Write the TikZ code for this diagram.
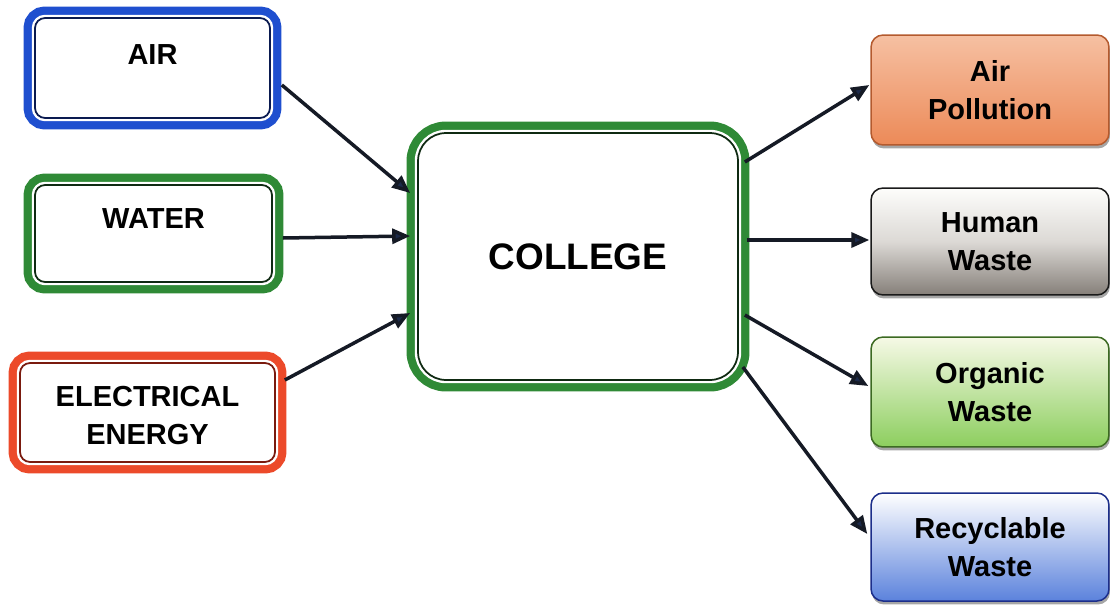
\documentclass[tikz,border=0pt]{standalone}
\usepackage{fontspec}
\setmainfont{Liberation Sans}
\usetikzlibrary{calc,arrows.meta,shadows}

\definecolor{bluerim}{HTML}{1F4FCF}
\definecolor{bluein}{HTML}{0A1A50}
\definecolor{greenrim}{HTML}{2F8A36}
\definecolor{greenin}{HTML}{0F2A12}
\definecolor{redrim}{HTML}{EC4A2A}
\definecolor{redin}{HTML}{7A1A0E}
\definecolor{arrowline}{HTML}{151A25}
\definecolor{arrowhead}{HTML}{1C2A4A}
\definecolor{aptop}{HTML}{F6C0A2}
\definecolor{apbot}{HTML}{EC8A58}
\definecolor{apedge}{HTML}{B45A2E}
\definecolor{hwtop}{HTML}{FDFDFB}
\definecolor{hwmid}{HTML}{DCD9D5}
\definecolor{hwbot}{HTML}{857F79}
\definecolor{hwedge}{HTML}{1A1A1A}
\definecolor{owtop}{HTML}{F6F9E6}
\definecolor{owbot}{HTML}{8CCE5E}
\definecolor{owedge}{HTML}{3C6A22}
\definecolor{rwtop}{HTML}{FFFFFF}
\definecolor{rwbot}{HTML}{5B82DC}
\definecolor{rwedge}{HTML}{1C2E8A}

\begin{document}
\begin{tikzpicture}[x=0.02cm,y=-0.02cm,
  % input / centre boxes: thick coloured rim, white gap, thin dark line
  framebox/.style n args={3}{draw=#2, line width=0.035cm, fill=white,
    rounded corners=#3, inner sep=0pt,
    preaction={draw=#1, line width=0.46cm},
    preaction={draw=white, line width=0.13cm}},
  % output boxes: shaded fill with a soft shadow
  wastebox/.style n args={3}{draw=#3, line width=0.03cm, rounded corners=0.24cm,
    top color=#1, bottom color=#2, inner sep=0pt,
    minimum width=4.76cm, align=center,
    font=\fontsize{16.5}{22}\selectfont\bfseries,
    drop shadow={shadow xshift=0.02cm, shadow yshift=-0.07cm, fill=black, opacity=0.35}},
  lbl/.style={font=\fontsize{16.5}{21.5}\selectfont\bfseries, align=center, inner sep=0pt},
  flow/.style={draw=arrowline, line width=0.07cm,
    -{Triangle[length=0.36cm, width=0.3cm, fill=arrowhead]}}
]
\useasboundingbox (0,0) rectangle (1111,605);

% inputs
\node[framebox={bluerim}{bluein}{0.2cm}, minimum width=4.7cm, minimum height=2cm] (air) at (152.5,68) {};
\node[lbl] (airlbl) at ($(air.center)+(0,-13)$) {AIR};

\node[framebox={greenrim}{greenin}{0.2cm}, minimum width=4.74cm, minimum height=1.94cm] (water) at (153.5,233.5) {};
\node[lbl] (waterlbl) at ($(water.center)+(0,-15)$) {WATER};

\node[framebox={redrim}{redin}{0.2cm}, minimum width=5.1cm, minimum height=1.98cm] (elec) at (147.5,412.5) {};
\node[lbl] (eleclbl) at ($(elec.center)+(0,3)$) {ELECTRICAL\\ENERGY};

% centre
\node[framebox={greenrim}{greenin}{0.56cm}, minimum width=6.4cm, minimum height=4.94cm,
      font=\fontsize{21}{25}\selectfont\bfseries] (college) at (578,256.5) {COLLEGE};

% outputs
\node[wastebox={aptop}{apbot}{apedge}, minimum height=2.2cm] (ap) at (990,90) {Air\\Pollution};
\node[wastebox={hwtop}{hwbot}{hwedge}, middle color=hwmid, minimum height=2.14cm] (hw) at (990,241.5) {Human\\Waste};
\node[wastebox={owtop}{owbot}{owedge}, minimum height=2.2cm] (ow) at (990,392) {Organic\\Waste};
\node[wastebox={rwtop}{rwbot}{rwedge}, minimum height=2.16cm] (rw) at (990,547) {Recyclable\\Waste};

% flows into the college
\draw[flow] ($(air.east)+(11,17)$) -- ($(college.west)+(-7,-63.5)$);
\draw[flow] ($(water.east)+(10,4.5)$) -- ($(college.west)+(-7,-20.5)$);
\draw[flow] ($(elec.east)+(9,-32.5)$) -- ($(college.west)+(-7,56.5)$);

% flows out of the college
\draw[flow] ($(college.east)+(6,-94.5)$) -- ($(ap.west)+(-1,-5)$);
\draw[flow] ($(college.east)+(8,-16.5)$) -- ($(hw.west)+(-1,-1.5)$);
\draw[flow] ($(college.east)+(6,58.5)$) -- ($(ow.west)+(-2,-6)$);
\draw[flow] ($(college.east)+(4,110.5)$) -- ($(rw.west)+(-3,-13)$);
\end{tikzpicture}
\end{document}
